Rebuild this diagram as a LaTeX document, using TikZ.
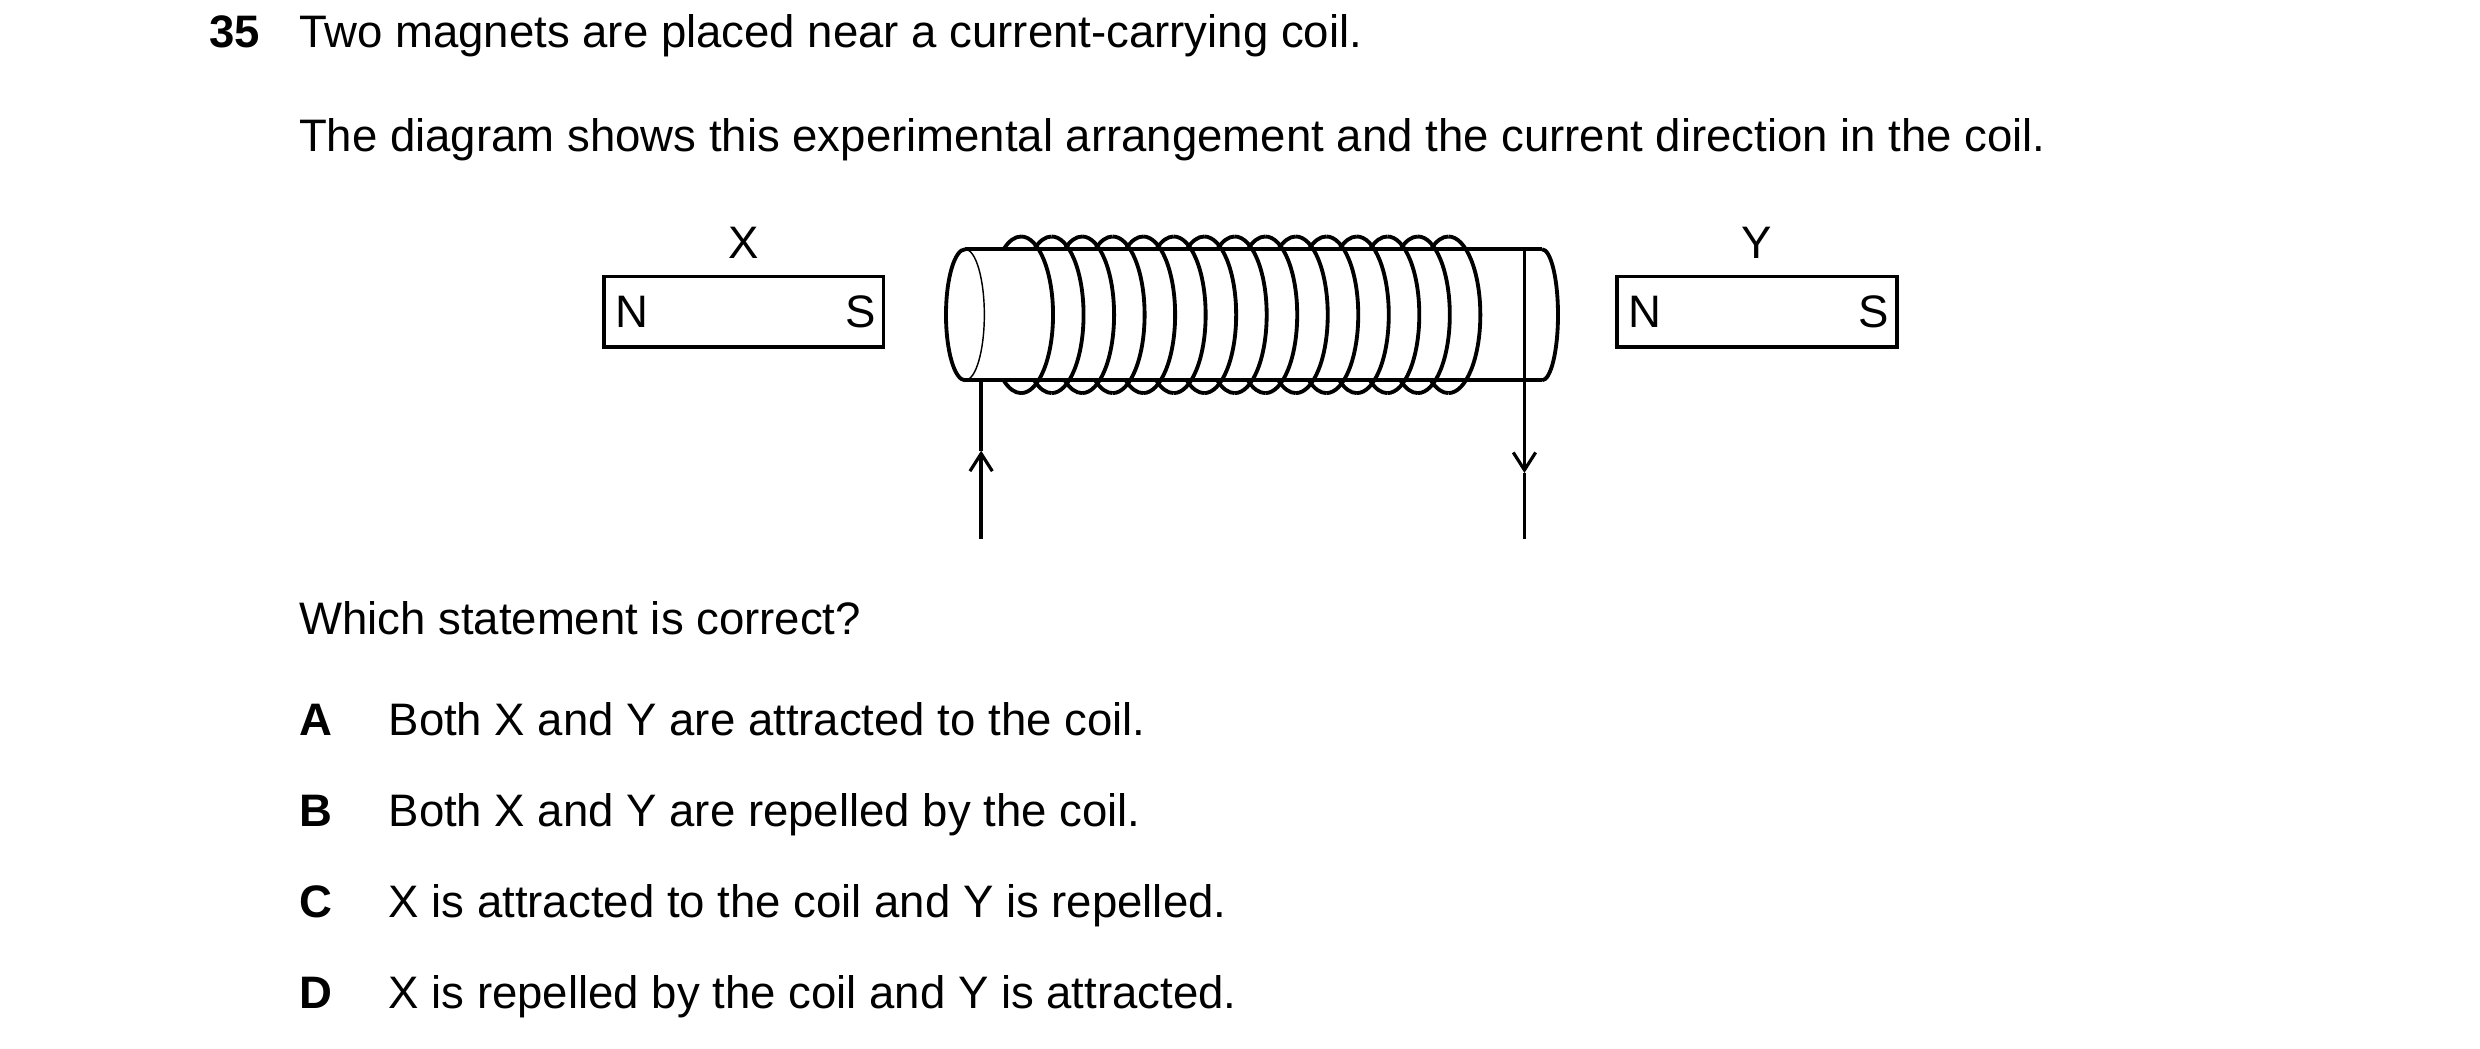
\documentclass[tikz,border=0pt]{standalone}
\usepackage{fontspec}
\setmainfont{Liberation Sans}
\usetikzlibrary{arrows.meta,positioning}

\begin{document}
\begin{tikzpicture}[
    x=1pt, y=-1pt,
    txt/.style={font=\fontsize{28.5}{34}\selectfont, anchor=base west, inner sep=0pt},
    opt/.style={font=\fontsize{28.5}{34}\selectfont\bfseries, anchor=base west, inner sep=0pt},
    magnet/.style={draw, line width=2.2pt, minimum width=175pt, minimum height=44pt, inner sep=0pt},
    pole/.style={font=\fontsize{28.5}{34}\selectfont, inner sep=0pt},
    wire/.style={line width=2.4pt},
    barb/.style={-{Straight Barb[length=11pt,width=14pt,line width=2pt]}},
  ]
  \useasboundingbox (0,0) rectangle (1552,656);

  % Question text
  \node[opt] (num) at (131,30) {35};
  \node[txt] (q1) at (187,30) {Two magnets are placed near a current-carrying coil.};
  \node[txt] (q2) at (187,95) {The diagram shows this experimental arrangement and the current direction in the coil.};

  % Magnets
  \node[magnet] (mx) at (465.5,195) {};
  \node[pole, anchor=west] (mxn) at ([xshift=8pt]mx.west) {N};
  \node[pole, anchor=east] (mxs) at ([xshift=-6pt]mx.east) {S};
  \node[pole, above=10pt of mx] (lx) {X};
  \node[magnet] (my) at (1099.5,195) {};
  \node[pole, anchor=west] (myn) at ([xshift=8pt]my.west) {N};
  \node[pole, anchor=east] (mys) at ([xshift=-6pt]my.east) {S};
  \node[pole, above=10pt of my] (ly) {Y};

  % Coil former
  \draw[wire] (604,156) -- (965,156);
  \draw[wire] (604,238) -- (965,238);
  \draw[wire] (604,156) arc[start angle=90, end angle=270, x radius=12pt, y radius=41pt];
  \draw[line width=0.9pt] (604,156) arc[start angle=90, end angle=-90, x radius=12pt, y radius=41pt];
  \draw[wire] (965,156) arc[start angle=90, end angle=-90, x radius=10pt, y radius=41pt];

  % Turns
  \foreach \i in {0,...,14}{
    \pgfmathsetmacro{\cx}{639+19.1*\i}
    \draw[wire] (\cx,148) arc[start angle=90, end angle=-90, x radius=20pt, y radius=49pt];
    \draw[wire] (\cx,148) arc[start angle=90, end angle=123, x radius=20pt, y radius=49pt];
    \draw[wire] (\cx,246) arc[start angle=270, end angle=237, x radius=20pt, y radius=49pt];
  }

  % Leads with current direction
  \coordinate (la) at (614,238);
  \coordinate (lm) at (614,282);
  \coordinate (lb) at (614,337);
  \coordinate (ra) at (954,156);
  \coordinate (rm) at (954,296);
  \coordinate (rb) at (954,337);
  \draw[wire, barb] (lb) -- (lm);
  \draw[wire] (lm) -- (la);
  \draw[wire, barb] (ra) -- (rm);
  \draw[wire] (rm) -- (rb);

  % Options
  \node[txt] (q3) at (187,397) {Which statement is correct?};
  \node[opt] (oa) at (187,460) {A};
  \node[txt] (ta) at (243,460) {Both X and Y are attracted to the coil.};
  \node[opt] (ob) at (187,517) {B};
  \node[txt] (tb) at (243,517) {Both X and Y are repelled by the coil.};
  \node[opt] (oc) at (187,574) {C};
  \node[txt] (tc) at (243,574) {X is attracted to the coil and Y is repelled.};
  \node[opt] (od) at (187,631) {D};
  \node[txt] (td) at (243,631) {X is repelled by the coil and Y is attracted.};
\end{tikzpicture}
\end{document}
